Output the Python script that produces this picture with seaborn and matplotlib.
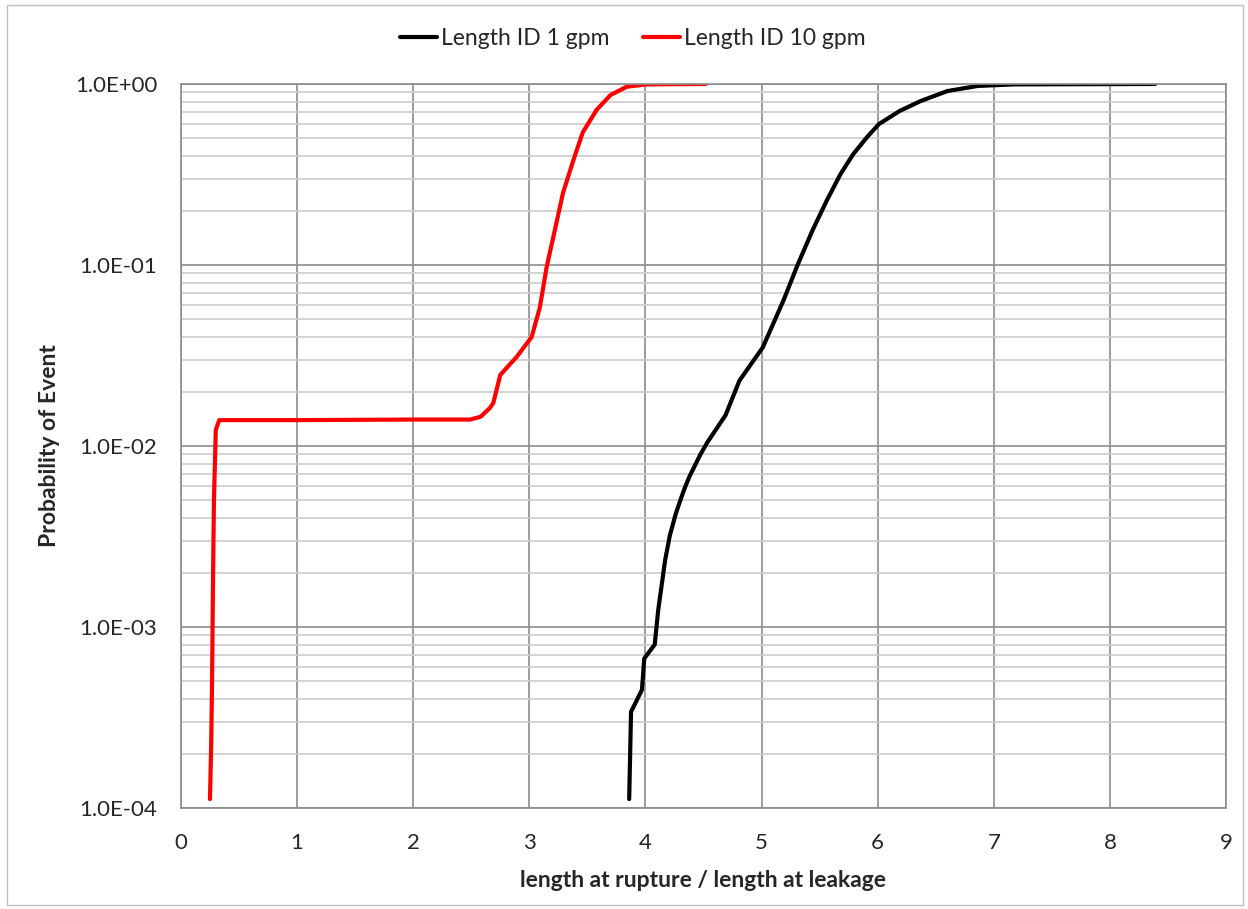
import pandas as pd
import matplotlib
matplotlib.use("Agg")
import matplotlib.pyplot as plt
import matplotlib.ticker as mticker
import seaborn as sns

# curve values
x_1gpm = [3.86, 3.876, 3.97, 3.99, 4.08, 4.11, 4.145, 4.17, 4.21, 4.26, 4.30, 4.34, 4.38,
          4.47, 4.53, 4.69, 4.81, 5.01, 5.19, 5.31, 5.44, 5.56, 5.68, 5.79, 5.91, 6.01,
          6.19, 6.37, 6.60, 6.86, 7.17, 8.39]
p_1gpm = [1.12e-4, 3.4e-4, 4.5e-4, 6.7e-4, 8.0e-4, 1.24e-3, 1.8e-3, 2.35e-3, 3.2e-3, 4.2e-3,
          5.0e-3, 5.9e-3, 6.8e-3, 8.9e-3, 1.04e-2, 1.48e-2, 2.3e-2, 3.5e-2, 6.4e-2, 0.10,
          0.156, 0.226, 0.318, 0.41, 0.51, 0.60, 0.71, 0.805, 0.914, 0.975, 0.995, 1.0]

x_10gpm = [0.25, 0.26, 0.267, 0.276, 0.284, 0.30, 0.33, 1.0, 2.0, 2.49, 2.58, 2.66, 2.69,
           2.75, 2.89, 3.02, 3.09, 3.15, 3.22, 3.29, 3.38, 3.46, 3.58, 3.70, 3.84, 4.01,
           4.52]
p_10gpm = [1.12e-4, 2.2e-4, 4.5e-4, 1.8e-3, 5.0e-3, 1.23e-2, 1.39e-2, 1.39e-2, 1.40e-2, 1.40e-2,
           1.45e-2, 1.62e-2, 1.73e-2, 2.47e-2, 3.1e-2, 4.0e-2, 5.8e-2, 9.8e-2, 0.156, 0.25,
           0.38, 0.54, 0.72, 0.87, 0.966, 0.995, 1.0]

series_names = ["Length ID 1 gpm", "Length ID 10 gpm"]

df = pd.concat([
    pd.DataFrame({"x": x_1gpm, "p": p_1gpm, "series": series_names[0]}),
    pd.DataFrame({"x": x_10gpm, "p": p_10gpm, "series": series_names[1]}),
], ignore_index=True)

sns.set_style("white")
plt.rcParams["font.family"] = ["Lato", "DejaVu Sans"]

fig = plt.figure(figsize=(12.48, 9.09), dpi=100)
ax = fig.add_axes([0.145, 0.1111, 0.8374, 0.7965])

sns.lineplot(data=df, x="x", y="p", hue="series", palette=["black", "red"],
             sort=False, estimator=None, linewidth=3, ax=ax)

ax.set_yscale("log")
ax.set_xlim(0, 9)
ax.set_ylim(1e-4, 1)
ax.xaxis.set_major_locator(mticker.MultipleLocator(1))
ax.yaxis.set_major_locator(mticker.LogLocator(base=10, numticks=10))
ax.yaxis.set_minor_locator(mticker.LogLocator(base=10, subs=range(2, 10), numticks=100))
ax.yaxis.set_minor_formatter(mticker.NullFormatter())
ax.yaxis.set_major_formatter(mticker.FuncFormatter(lambda v, _: f"{v:.1E}"))

ax.grid(True, which="major", axis="both", color="#8c8c8c", linewidth=1.2)
ax.grid(True, which="minor", axis="y", color="#cccccc", linewidth=1.2)
ax.set_axisbelow(True)
for s in ax.spines.values():
    s.set_color("#8c8c8c")
    s.set_linewidth(1.2)

ax.tick_params(axis="y", which="major", labelsize=16, direction="out",
               length=6, color="#8c8c8c", width=1.2, pad=11)
ax.tick_params(axis="y", which="minor", length=0)
ax.tick_params(axis="x", which="major", labelsize=16, length=0, pad=18)

ax.set_xlabel("length at rupture / length at leakage", fontsize=16.5,
              fontweight="bold", labelpad=12)
ax.set_ylabel("Probability of Event", fontsize=16.5, fontweight="bold", labelpad=11)

# legend sits centred over the whole chart area, not the plot area
ax.legend(loc="center", bbox_to_anchor=(0.4325, 1.063), ncol=2, frameon=False,
          fontsize=16.5, handlelength=1.6, handletextpad=0.2, columnspacing=1.45)

# outer chart border
fig.patches.append(plt.Rectangle((0.006, 0.004), 0.99, 0.99, transform=fig.transFigure,
                                 fill=False, edgecolor="#c0c0c0", linewidth=1))

fig.savefig("out.png", dpi=100)
plt.close(fig)
